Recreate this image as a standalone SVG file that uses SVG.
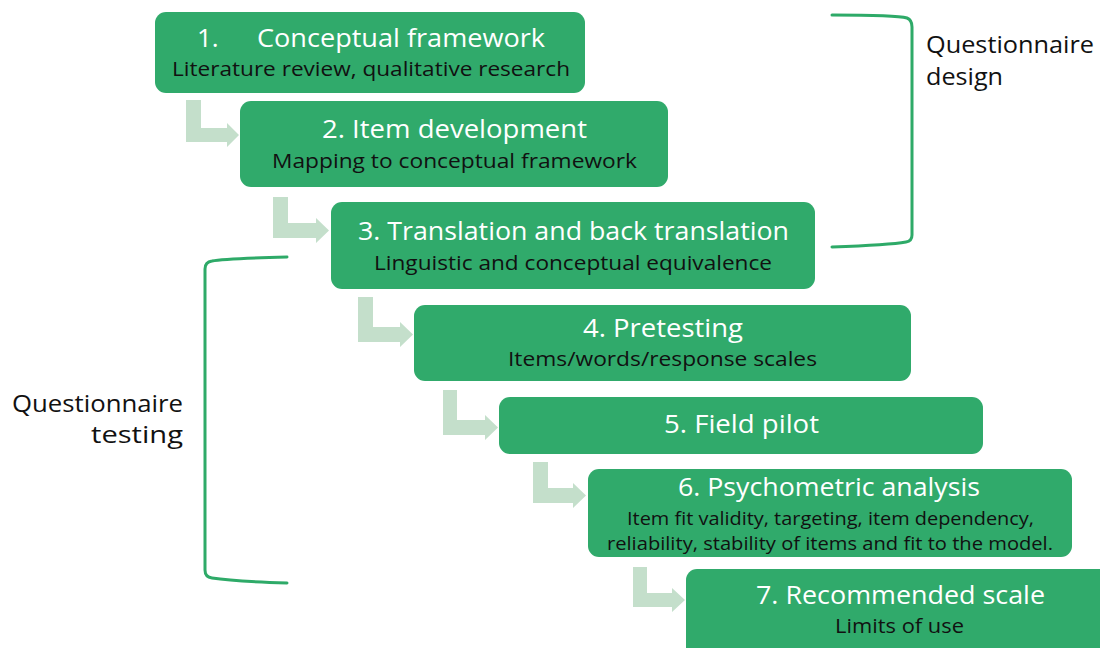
<svg xmlns="http://www.w3.org/2000/svg" width="1100" height="648" viewBox="0 0 1100 648">
<style>
.box{fill:#30aa6b}
.t{font-family:"Open Sans","Noto Sans","Liberation Sans",sans-serif;fill:#ffffff;font-size:26px}
.s{font-family:"Open Sans","Noto Sans","Liberation Sans",sans-serif;fill:#111111;font-size:20.5px}
.s2{font-family:"Open Sans","Noto Sans","Liberation Sans",sans-serif;fill:#111111;font-size:18px}
.lab{font-family:"Open Sans","Noto Sans","Liberation Sans",sans-serif;fill:#111111;font-size:24px}
.arr{fill:#c4dfcb}
.br{fill:none;stroke:#2eaa68;stroke-width:3;stroke-linecap:round}
</style>
<rect width="1100" height="648" fill="#ffffff"/>
<g id="connectors">
<path class="arr" d="M186 100 H201 V128 H227 V123 L239 135 L227 147 V142 H186 Z"/>
<path class="arr" d="M273 197 H288 V223 H316 V218 L329 230.5 L316 243 V238 H273 Z"/>
<path class="arr" d="M358 297 H373 V327 H400 V322 L413 334.5 L400 347 V342 H358 Z"/>
<path class="arr" d="M443 390 H457 V420 H485 V415 L498 427.5 L485 440 V435 H443 Z"/>
<path class="arr" d="M533 462 H548 V488 H573 V483 L586 495.5 L573 508 V503 H533 Z"/>
<path class="arr" d="M633 567 H647 V593 H672 V588 L685 600 L672 612 V607 H633 Z"/>
</g>
<g id="bracket-design">
<path class="br" d="M832 15 C870 15 900 16 907 18 Q912 20 912 27 V235 Q912 241 906 242 C895 244 860 246 832 247"/>
<text class="lab" x="926" y="53" textLength="168" lengthAdjust="spacingAndGlyphs">Questionnaire</text>
<text class="lab" x="926" y="85" textLength="77" lengthAdjust="spacingAndGlyphs">design</text>
</g>
<g id="bracket-testing">
<path class="br" d="M287 257 C250 258 222 259 212 261 Q205 262 205 269 V570 Q205 577 212 578 C225 580 255 582 287 583"/>
<text class="lab" x="12" y="412" textLength="171" lengthAdjust="spacingAndGlyphs">Questionnaire</text>
<text class="lab" x="91" y="443" textLength="92" lengthAdjust="spacingAndGlyphs">testing</text>
</g>
<g id="node1">
<rect class="box" x="155" y="12" width="430" height="81" rx="11"/>
<text class="t" y="47"><tspan x="197">1.</tspan><tspan x="257" textLength="288" lengthAdjust="spacingAndGlyphs">Conceptual framework</tspan></text>
<text class="s" x="172" y="76" textLength="398" lengthAdjust="spacingAndGlyphs">Literature review, qualitative research</text>
</g>
<g id="node2">
<rect class="box" x="240" y="101" width="428" height="86" rx="11"/>
<text class="t" x="322" y="138" textLength="265" lengthAdjust="spacingAndGlyphs">2. Item development</text>
<text class="s" x="272" y="168" textLength="365" lengthAdjust="spacingAndGlyphs">Mapping to conceptual framework</text>
</g>
<g id="node3">
<rect class="box" x="331" y="202" width="484" height="87" rx="11"/>
<text class="t" x="358" y="240" textLength="431" lengthAdjust="spacingAndGlyphs">3. Translation and back translation</text>
<text class="s" x="374" y="270" textLength="398" lengthAdjust="spacingAndGlyphs">Linguistic and conceptual equivalence</text>
</g>
<g id="node4">
<rect class="box" x="414" y="305" width="497" height="76" rx="11"/>
<text class="t" x="583" y="337" textLength="160" lengthAdjust="spacingAndGlyphs">4. Pretesting</text>
<text class="s" x="508" y="366" textLength="309" lengthAdjust="spacingAndGlyphs">Items/words/response scales</text>
</g>
<g id="node5">
<rect class="box" x="499" y="397" width="484" height="57" rx="11"/>
<text class="t" x="664" y="433" textLength="155" lengthAdjust="spacingAndGlyphs">5. Field pilot</text>
</g>
<g id="node6">
<rect class="box" x="588" y="469" width="484" height="88" rx="11"/>
<text class="t" x="678" y="496" textLength="302" lengthAdjust="spacingAndGlyphs">6. Psychometric analysis</text>
<text class="s2" x="627" y="525" textLength="407" lengthAdjust="spacingAndGlyphs">Item fit validity, targeting, item dependency,</text>
<text class="s2" x="607" y="550" textLength="446" lengthAdjust="spacingAndGlyphs">reliability, stability of items and fit to the model.</text>
</g>
<g id="node7">
<rect class="box" x="686" y="569" width="440" height="100" rx="11"/>
<text class="t" x="756" y="604" textLength="289" lengthAdjust="spacingAndGlyphs">7. Recommended scale</text>
<text class="s" x="835" y="633" textLength="129" lengthAdjust="spacingAndGlyphs">Limits of use</text>
</g>
</svg>
